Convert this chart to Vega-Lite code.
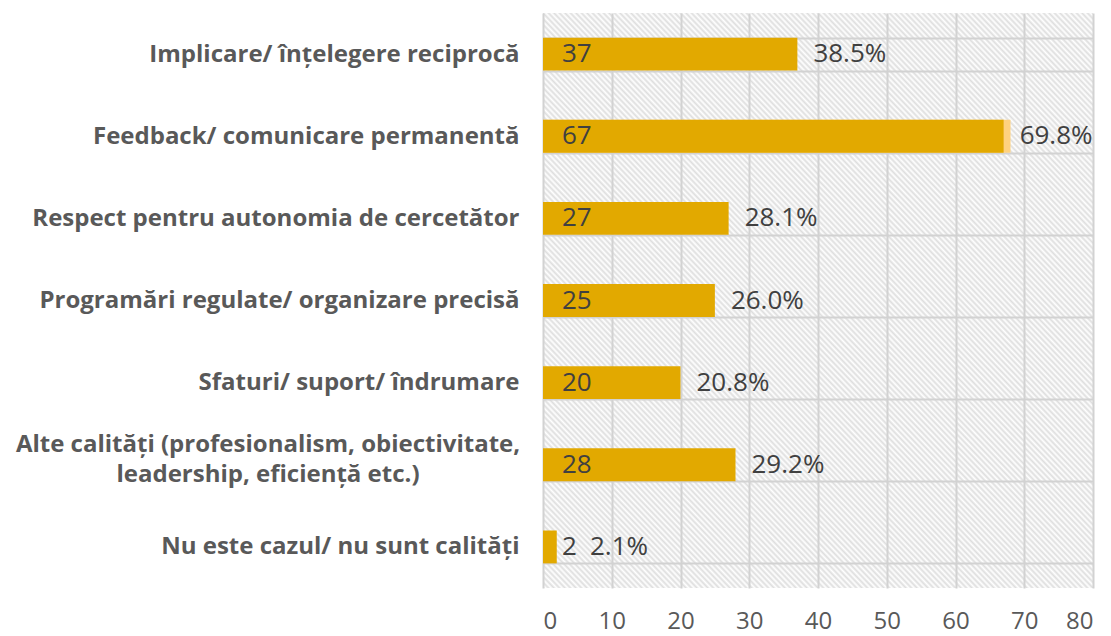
{
  "$schema": "https://vega.github.io/schema/vega-lite/v6.json",
  "autosize": {"type": "none"},
  "padding": {"left": 543, "top": 13, "right": 18, "bottom": 48},
  "width": 550,
  "height": 575,
  "background": "#ffffff",
  "config": {
    "view": {"stroke": null, "fill": {"gradient": "linear", "x1": 0, "y1": 1, "x2": 1, "y2": 0, "stops": [
{"offset":0,"color":"#dedede"},{"offset":0.0025,"color":"#fff"},{"offset":0.005,"color":"#dedede"},{"offset":0.0075,"color":"#fff"},
{"offset":0.01,"color":"#dedede"},{"offset":0.0125,"color":"#fff"},{"offset":0.015,"color":"#dedede"},{"offset":0.0175,"color":"#fff"},
{"offset":0.02,"color":"#dedede"},{"offset":0.0225,"color":"#fff"},{"offset":0.025,"color":"#dedede"},{"offset":0.0275,"color":"#fff"},
{"offset":0.03,"color":"#dedede"},{"offset":0.0325,"color":"#fff"},{"offset":0.035,"color":"#dedede"},{"offset":0.0375,"color":"#fff"},
{"offset":0.04,"color":"#dedede"},{"offset":0.0425,"color":"#fff"},{"offset":0.045,"color":"#dedede"},{"offset":0.0475,"color":"#fff"},
{"offset":0.05,"color":"#dedede"},{"offset":0.0525,"color":"#fff"},{"offset":0.055,"color":"#dedede"},{"offset":0.0575,"color":"#fff"},
{"offset":0.06,"color":"#dedede"},{"offset":0.0625,"color":"#fff"},{"offset":0.065,"color":"#dedede"},{"offset":0.0675,"color":"#fff"},
{"offset":0.07,"color":"#dedede"},{"offset":0.0725,"color":"#fff"},{"offset":0.075,"color":"#dedede"},{"offset":0.0775,"color":"#fff"},
{"offset":0.08,"color":"#dedede"},{"offset":0.0825,"color":"#fff"},{"offset":0.085,"color":"#dedede"},{"offset":0.0875,"color":"#fff"},
{"offset":0.09,"color":"#dedede"},{"offset":0.0925,"color":"#fff"},{"offset":0.095,"color":"#dedede"},{"offset":0.0975,"color":"#fff"},
{"offset":0.1,"color":"#dedede"},{"offset":0.1025,"color":"#fff"},{"offset":0.105,"color":"#dedede"},{"offset":0.1075,"color":"#fff"},
{"offset":0.11,"color":"#dedede"},{"offset":0.1125,"color":"#fff"},{"offset":0.115,"color":"#dedede"},{"offset":0.1175,"color":"#fff"},
{"offset":0.12,"color":"#dedede"},{"offset":0.1225,"color":"#fff"},{"offset":0.125,"color":"#dedede"},{"offset":0.1275,"color":"#fff"},
{"offset":0.13,"color":"#dedede"},{"offset":0.1325,"color":"#fff"},{"offset":0.135,"color":"#dedede"},{"offset":0.1375,"color":"#fff"},
{"offset":0.14,"color":"#dedede"},{"offset":0.1425,"color":"#fff"},{"offset":0.145,"color":"#dedede"},{"offset":0.1475,"color":"#fff"},
{"offset":0.15,"color":"#dedede"},{"offset":0.1525,"color":"#fff"},{"offset":0.155,"color":"#dedede"},{"offset":0.1575,"color":"#fff"},
{"offset":0.16,"color":"#dedede"},{"offset":0.1625,"color":"#fff"},{"offset":0.165,"color":"#dedede"},{"offset":0.1675,"color":"#fff"},
{"offset":0.17,"color":"#dedede"},{"offset":0.1725,"color":"#fff"},{"offset":0.175,"color":"#dedede"},{"offset":0.1775,"color":"#fff"},
{"offset":0.18,"color":"#dedede"},{"offset":0.1825,"color":"#fff"},{"offset":0.185,"color":"#dedede"},{"offset":0.1875,"color":"#fff"},
{"offset":0.19,"color":"#dedede"},{"offset":0.1925,"color":"#fff"},{"offset":0.195,"color":"#dedede"},{"offset":0.1975,"color":"#fff"},
{"offset":0.2,"color":"#dedede"},{"offset":0.2025,"color":"#fff"},{"offset":0.205,"color":"#dedede"},{"offset":0.2075,"color":"#fff"},
{"offset":0.21,"color":"#dedede"},{"offset":0.2125,"color":"#fff"},{"offset":0.215,"color":"#dedede"},{"offset":0.2175,"color":"#fff"},
{"offset":0.22,"color":"#dedede"},{"offset":0.2225,"color":"#fff"},{"offset":0.225,"color":"#dedede"},{"offset":0.2275,"color":"#fff"},
{"offset":0.23,"color":"#dedede"},{"offset":0.2325,"color":"#fff"},{"offset":0.235,"color":"#dedede"},{"offset":0.2375,"color":"#fff"},
{"offset":0.24,"color":"#dedede"},{"offset":0.2425,"color":"#fff"},{"offset":0.245,"color":"#dedede"},{"offset":0.2475,"color":"#fff"},
{"offset":0.25,"color":"#dedede"},{"offset":0.2525,"color":"#fff"},{"offset":0.255,"color":"#dedede"},{"offset":0.2575,"color":"#fff"},
{"offset":0.26,"color":"#dedede"},{"offset":0.2625,"color":"#fff"},{"offset":0.265,"color":"#dedede"},{"offset":0.2675,"color":"#fff"},
{"offset":0.27,"color":"#dedede"},{"offset":0.2725,"color":"#fff"},{"offset":0.275,"color":"#dedede"},{"offset":0.2775,"color":"#fff"},
{"offset":0.28,"color":"#dedede"},{"offset":0.2825,"color":"#fff"},{"offset":0.285,"color":"#dedede"},{"offset":0.2875,"color":"#fff"},
{"offset":0.29,"color":"#dedede"},{"offset":0.2925,"color":"#fff"},{"offset":0.295,"color":"#dedede"},{"offset":0.2975,"color":"#fff"},
{"offset":0.3,"color":"#dedede"},{"offset":0.3025,"color":"#fff"},{"offset":0.305,"color":"#dedede"},{"offset":0.3075,"color":"#fff"},
{"offset":0.31,"color":"#dedede"},{"offset":0.3125,"color":"#fff"},{"offset":0.315,"color":"#dedede"},{"offset":0.3175,"color":"#fff"},
{"offset":0.32,"color":"#dedede"},{"offset":0.3225,"color":"#fff"},{"offset":0.325,"color":"#dedede"},{"offset":0.3275,"color":"#fff"},
{"offset":0.33,"color":"#dedede"},{"offset":0.3325,"color":"#fff"},{"offset":0.335,"color":"#dedede"},{"offset":0.3375,"color":"#fff"},
{"offset":0.34,"color":"#dedede"},{"offset":0.3425,"color":"#fff"},{"offset":0.345,"color":"#dedede"},{"offset":0.3475,"color":"#fff"},
{"offset":0.35,"color":"#dedede"},{"offset":0.3525,"color":"#fff"},{"offset":0.355,"color":"#dedede"},{"offset":0.3575,"color":"#fff"},
{"offset":0.36,"color":"#dedede"},{"offset":0.3625,"color":"#fff"},{"offset":0.365,"color":"#dedede"},{"offset":0.3675,"color":"#fff"},
{"offset":0.37,"color":"#dedede"},{"offset":0.3725,"color":"#fff"},{"offset":0.375,"color":"#dedede"},{"offset":0.3775,"color":"#fff"},
{"offset":0.38,"color":"#dedede"},{"offset":0.3825,"color":"#fff"},{"offset":0.385,"color":"#dedede"},{"offset":0.3875,"color":"#fff"},
{"offset":0.39,"color":"#dedede"},{"offset":0.3925,"color":"#fff"},{"offset":0.395,"color":"#dedede"},{"offset":0.3975,"color":"#fff"},
{"offset":0.4,"color":"#dedede"},{"offset":0.4025,"color":"#fff"},{"offset":0.405,"color":"#dedede"},{"offset":0.4075,"color":"#fff"},
{"offset":0.41,"color":"#dedede"},{"offset":0.4125,"color":"#fff"},{"offset":0.415,"color":"#dedede"},{"offset":0.4175,"color":"#fff"},
{"offset":0.42,"color":"#dedede"},{"offset":0.4225,"color":"#fff"},{"offset":0.425,"color":"#dedede"},{"offset":0.4275,"color":"#fff"},
{"offset":0.43,"color":"#dedede"},{"offset":0.4325,"color":"#fff"},{"offset":0.435,"color":"#dedede"},{"offset":0.4375,"color":"#fff"},
{"offset":0.44,"color":"#dedede"},{"offset":0.4425,"color":"#fff"},{"offset":0.445,"color":"#dedede"},{"offset":0.4475,"color":"#fff"},
{"offset":0.45,"color":"#dedede"},{"offset":0.4525,"color":"#fff"},{"offset":0.455,"color":"#dedede"},{"offset":0.4575,"color":"#fff"},
{"offset":0.46,"color":"#dedede"},{"offset":0.4625,"color":"#fff"},{"offset":0.465,"color":"#dedede"},{"offset":0.4675,"color":"#fff"},
{"offset":0.47,"color":"#dedede"},{"offset":0.4725,"color":"#fff"},{"offset":0.475,"color":"#dedede"},{"offset":0.4775,"color":"#fff"},
{"offset":0.48,"color":"#dedede"},{"offset":0.4825,"color":"#fff"},{"offset":0.485,"color":"#dedede"},{"offset":0.4875,"color":"#fff"},
{"offset":0.49,"color":"#dedede"},{"offset":0.4925,"color":"#fff"},{"offset":0.495,"color":"#dedede"},{"offset":0.4975,"color":"#fff"},
{"offset":0.5,"color":"#dedede"},{"offset":0.5025,"color":"#fff"},{"offset":0.505,"color":"#dedede"},{"offset":0.5075,"color":"#fff"},
{"offset":0.51,"color":"#dedede"},{"offset":0.5125,"color":"#fff"},{"offset":0.515,"color":"#dedede"},{"offset":0.5175,"color":"#fff"},
{"offset":0.52,"color":"#dedede"},{"offset":0.5225,"color":"#fff"},{"offset":0.525,"color":"#dedede"},{"offset":0.5275,"color":"#fff"},
{"offset":0.53,"color":"#dedede"},{"offset":0.5325,"color":"#fff"},{"offset":0.535,"color":"#dedede"},{"offset":0.5375,"color":"#fff"},
{"offset":0.54,"color":"#dedede"},{"offset":0.5425,"color":"#fff"},{"offset":0.545,"color":"#dedede"},{"offset":0.5475,"color":"#fff"},
{"offset":0.55,"color":"#dedede"},{"offset":0.5525,"color":"#fff"},{"offset":0.555,"color":"#dedede"},{"offset":0.5575,"color":"#fff"},
{"offset":0.56,"color":"#dedede"},{"offset":0.5625,"color":"#fff"},{"offset":0.565,"color":"#dedede"},{"offset":0.5675,"color":"#fff"},
{"offset":0.57,"color":"#dedede"},{"offset":0.5725,"color":"#fff"},{"offset":0.575,"color":"#dedede"},{"offset":0.5775,"color":"#fff"},
{"offset":0.58,"color":"#dedede"},{"offset":0.5825,"color":"#fff"},{"offset":0.585,"color":"#dedede"},{"offset":0.5875,"color":"#fff"},
{"offset":0.59,"color":"#dedede"},{"offset":0.5925,"color":"#fff"},{"offset":0.595,"color":"#dedede"},{"offset":0.5975,"color":"#fff"},
{"offset":0.6,"color":"#dedede"},{"offset":0.6025,"color":"#fff"},{"offset":0.605,"color":"#dedede"},{"offset":0.6075,"color":"#fff"},
{"offset":0.61,"color":"#dedede"},{"offset":0.6125,"color":"#fff"},{"offset":0.615,"color":"#dedede"},{"offset":0.6175,"color":"#fff"},
{"offset":0.62,"color":"#dedede"},{"offset":0.6225,"color":"#fff"},{"offset":0.625,"color":"#dedede"},{"offset":0.6275,"color":"#fff"},
{"offset":0.63,"color":"#dedede"},{"offset":0.6325,"color":"#fff"},{"offset":0.635,"color":"#dedede"},{"offset":0.6375,"color":"#fff"},
{"offset":0.64,"color":"#dedede"},{"offset":0.6425,"color":"#fff"},{"offset":0.645,"color":"#dedede"},{"offset":0.6475,"color":"#fff"},
{"offset":0.65,"color":"#dedede"},{"offset":0.6525,"color":"#fff"},{"offset":0.655,"color":"#dedede"},{"offset":0.6575,"color":"#fff"},
{"offset":0.66,"color":"#dedede"},{"offset":0.6625,"color":"#fff"},{"offset":0.665,"color":"#dedede"},{"offset":0.6675,"color":"#fff"},
{"offset":0.67,"color":"#dedede"},{"offset":0.6725,"color":"#fff"},{"offset":0.675,"color":"#dedede"},{"offset":0.6775,"color":"#fff"},
{"offset":0.68,"color":"#dedede"},{"offset":0.6825,"color":"#fff"},{"offset":0.685,"color":"#dedede"},{"offset":0.6875,"color":"#fff"},
{"offset":0.69,"color":"#dedede"},{"offset":0.6925,"color":"#fff"},{"offset":0.695,"color":"#dedede"},{"offset":0.6975,"color":"#fff"},
{"offset":0.7,"color":"#dedede"},{"offset":0.7025,"color":"#fff"},{"offset":0.705,"color":"#dedede"},{"offset":0.7075,"color":"#fff"},
{"offset":0.71,"color":"#dedede"},{"offset":0.7125,"color":"#fff"},{"offset":0.715,"color":"#dedede"},{"offset":0.7175,"color":"#fff"},
{"offset":0.72,"color":"#dedede"},{"offset":0.7225,"color":"#fff"},{"offset":0.725,"color":"#dedede"},{"offset":0.7275,"color":"#fff"},
{"offset":0.73,"color":"#dedede"},{"offset":0.7325,"color":"#fff"},{"offset":0.735,"color":"#dedede"},{"offset":0.7375,"color":"#fff"},
{"offset":0.74,"color":"#dedede"},{"offset":0.7425,"color":"#fff"},{"offset":0.745,"color":"#dedede"},{"offset":0.7475,"color":"#fff"},
{"offset":0.75,"color":"#dedede"},{"offset":0.7525,"color":"#fff"},{"offset":0.755,"color":"#dedede"},{"offset":0.7575,"color":"#fff"},
{"offset":0.76,"color":"#dedede"},{"offset":0.7625,"color":"#fff"},{"offset":0.765,"color":"#dedede"},{"offset":0.7675,"color":"#fff"},
{"offset":0.77,"color":"#dedede"},{"offset":0.7725,"color":"#fff"},{"offset":0.775,"color":"#dedede"},{"offset":0.7775,"color":"#fff"},
{"offset":0.78,"color":"#dedede"},{"offset":0.7825,"color":"#fff"},{"offset":0.785,"color":"#dedede"},{"offset":0.7875,"color":"#fff"},
{"offset":0.79,"color":"#dedede"},{"offset":0.7925,"color":"#fff"},{"offset":0.795,"color":"#dedede"},{"offset":0.7975,"color":"#fff"},
{"offset":0.8,"color":"#dedede"},{"offset":0.8025,"color":"#fff"},{"offset":0.805,"color":"#dedede"},{"offset":0.8075,"color":"#fff"},
{"offset":0.81,"color":"#dedede"},{"offset":0.8125,"color":"#fff"},{"offset":0.815,"color":"#dedede"},{"offset":0.8175,"color":"#fff"},
{"offset":0.82,"color":"#dedede"},{"offset":0.8225,"color":"#fff"},{"offset":0.825,"color":"#dedede"},{"offset":0.8275,"color":"#fff"},
{"offset":0.83,"color":"#dedede"},{"offset":0.8325,"color":"#fff"},{"offset":0.835,"color":"#dedede"},{"offset":0.8375,"color":"#fff"},
{"offset":0.84,"color":"#dedede"},{"offset":0.8425,"color":"#fff"},{"offset":0.845,"color":"#dedede"},{"offset":0.8475,"color":"#fff"},
{"offset":0.85,"color":"#dedede"},{"offset":0.8525,"color":"#fff"},{"offset":0.855,"color":"#dedede"},{"offset":0.8575,"color":"#fff"},
{"offset":0.86,"color":"#dedede"},{"offset":0.8625,"color":"#fff"},{"offset":0.865,"color":"#dedede"},{"offset":0.8675,"color":"#fff"},
{"offset":0.87,"color":"#dedede"},{"offset":0.8725,"color":"#fff"},{"offset":0.875,"color":"#dedede"},{"offset":0.8775,"color":"#fff"},
{"offset":0.88,"color":"#dedede"},{"offset":0.8825,"color":"#fff"},{"offset":0.885,"color":"#dedede"},{"offset":0.8875,"color":"#fff"},
{"offset":0.89,"color":"#dedede"},{"offset":0.8925,"color":"#fff"},{"offset":0.895,"color":"#dedede"},{"offset":0.8975,"color":"#fff"},
{"offset":0.9,"color":"#dedede"},{"offset":0.9025,"color":"#fff"},{"offset":0.905,"color":"#dedede"},{"offset":0.9075,"color":"#fff"},
{"offset":0.91,"color":"#dedede"},{"offset":0.9125,"color":"#fff"},{"offset":0.915,"color":"#dedede"},{"offset":0.9175,"color":"#fff"},
{"offset":0.92,"color":"#dedede"},{"offset":0.9225,"color":"#fff"},{"offset":0.925,"color":"#dedede"},{"offset":0.9275,"color":"#fff"},
{"offset":0.93,"color":"#dedede"},{"offset":0.9325,"color":"#fff"},{"offset":0.935,"color":"#dedede"},{"offset":0.9375,"color":"#fff"},
{"offset":0.94,"color":"#dedede"},{"offset":0.9425,"color":"#fff"},{"offset":0.945,"color":"#dedede"},{"offset":0.9475,"color":"#fff"},
{"offset":0.95,"color":"#dedede"},{"offset":0.9525,"color":"#fff"},{"offset":0.955,"color":"#dedede"},{"offset":0.9575,"color":"#fff"},
{"offset":0.96,"color":"#dedede"},{"offset":0.9625,"color":"#fff"},{"offset":0.965,"color":"#dedede"},{"offset":0.9675,"color":"#fff"},
{"offset":0.97,"color":"#dedede"},{"offset":0.9725,"color":"#fff"},{"offset":0.975,"color":"#dedede"},{"offset":0.9775,"color":"#fff"},
{"offset":0.98,"color":"#dedede"},{"offset":0.9825,"color":"#fff"},{"offset":0.985,"color":"#dedede"},{"offset":0.9875,"color":"#fff"},
{"offset":0.99,"color":"#dedede"},{"offset":0.9925,"color":"#fff"},{"offset":0.995,"color":"#dedede"},{"offset":0.9975,"color":"#fff"},
{"offset":1,"color":"#dedede"}
    ]}},
    "font": "Open Sans"
  },
  "data": {
    "values": [
      {"cat": "Implicare/ înțelegere reciprocă", "count": 37, "pct": 38.5, "upper": null},
      {"cat": "Feedback/ comunicare permanentă", "count": 67, "pct": 69.8, "upper": 68},
      {"cat": "Respect pentru autonomia de cercetător", "count": 27, "pct": 28.1, "upper": null},
      {"cat": "Programări regulate/ organizare precisă", "count": 25, "pct": 26.0, "upper": null},
      {"cat": "Sfaturi/ suport/ îndrumare", "count": 20, "pct": 20.8, "upper": null},
      {"cat": "Alte calități (profesionalism, obiectivitate,|leadership, eficiență etc.)", "count": 28, "pct": 29.2, "upper": null},
      {"cat": "Nu este cazul/ nu sunt calități", "count": 2, "pct": 2.1, "upper": null}
    ]
  },
  "transform": [
    {"calculate": "format(datum.pct, '.1f') + '%'", "as": "pctLabel"},
    {"calculate": "max(datum.count, 4.5)", "as": "pctPos"},
    {"calculate": "split(datum.cat, '|')", "as": "catLines"}
  ],
  "encoding": {
    "y": {
      "field": "cat",
      "type": "nominal",
      "sort": null,
      "scale": {
        "domain": [
          "Implicare/ înțelegere reciprocă",
          "Feedback/ comunicare permanentă",
          "Respect pentru autonomia de cercetător",
          "Programări regulate/ organizare precisă",
          "Sfaturi/ suport/ îndrumare",
          "Alte calități (profesionalism, obiectivitate,|leadership, eficiență etc.)",
          "Nu este cazul/ nu sunt calități"
        ],
        "paddingInner": 0.6,
        "paddingOuter": 0.3
      },
      "axis": {
        "title": null,
        "domain": false,
        "ticks": true,
        "tickSize": 0,
        "tickColor": "transparent",
        "grid": true,
        "tickBand": "extent",
        "gridColor": "#D2D2D2",
        "gridWidth": 2,
        "labelExpr": "indexof(datum.label, '|') >= 0 ? '' : datum.label",
        "labelFont": "Open Sans",
        "labelFontWeight": "bold",
        "labelFontSize": 24,
        "labelColor": "#595959",
        "labelPadding": 24,
        "labelLimit": 700
      }
    }
  },
  "layer": [
    {
      "transform": [{"filter": "datum.upper != null"}],
      "mark": {"type": "bar", "color": "#FFD27F"},
      "encoding": {
        "x": {"field": "upper", "type": "quantitative"}
      }
    },
    {
      "mark": {"type": "bar", "color": "#E2A900"},
      "encoding": {
        "x": {
          "field": "count",
          "type": "quantitative",
          "scale": {"domain": [0, 80]},
          "axis": {
            "title": null,
            "values": [0, 10, 20, 30, 40, 50, 60, 70, 80],
            "domain": false,
            "ticks": false,
            "grid": true,
            "gridColor": "#D2D2D2",
            "gridWidth": 2,
            "labelFont": "Open Sans",
            "labelFontSize": 24,
            "labelColor": "#595959",
            "labelPadding": 21
          }
        }
      }
    },
    {
      "transform": [{"filter": "indexof(datum.cat, '|') >= 0"}],
      "mark": {"type": "text", "align": "center", "baseline": "middle", "dx": -275, "dy": -20, "lineHeight": 30, "fontSize": 24, "fontWeight": "bold", "color": "#595959", "font": "Open Sans"},
      "encoding": {
        "x": {"datum": 0, "type": "quantitative"},
        "text": {"field": "catLines"}
      }
    },
    {
      "mark": {"type": "text", "align": "left", "baseline": "middle", "dx": 19, "fontSize": 26, "color": "#404040", "font": "Open Sans"},
      "encoding": {
        "x": {"datum": 0, "type": "quantitative"},
        "text": {"field": "count", "type": "quantitative"}
      }
    },
    {
      "mark": {"type": "text", "align": "left", "baseline": "middle", "dx": 16, "fontSize": 26, "color": "#404040", "font": "Open Sans"},
      "encoding": {
        "x": {"field": "pctPos", "type": "quantitative"},
        "text": {"field": "pctLabel", "type": "nominal"}
      }
    }
  ]
}
